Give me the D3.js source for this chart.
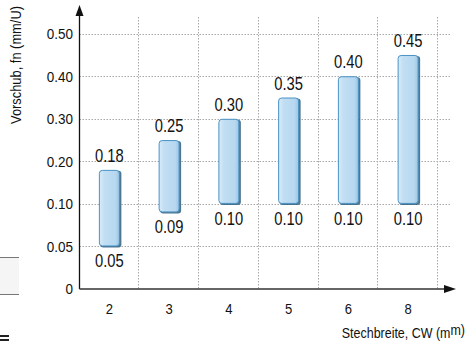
<!DOCTYPE html>
<html><head><meta charset="utf-8">
<script src="https://cdn.jsdelivr.net/npm/d3@7"></script>
<style>
html,body{margin:0;padding:0;background:#fff;}
svg{display:block;}
text{font-family:"Liberation Sans",Arial,sans-serif;fill:#111;}
</style></head>
<body>
<svg id="c" width="469" height="343"></svg>
<script>
const categories = ["2","3","4","5","6","8"];
const minValues = [0.05,0.09,0.10,0.10,0.10,0.10];
const maxValues = [0.18,0.25,0.30,0.35,0.40,0.45];
const yTicks = [0,0.05,0.10,0.20,0.30,0.40,0.50];
const yTickLabels = ["0","0.05","0.10","0.20","0.30","0.40","0.50"];
const yTitle = "Vorschub, fn (mm/U)";
const xTitle = "Stechbreite, CW (m";
const xTitleSup = "m)";

const svg = d3.select("#c");
const axX = 79.5, axY = 289, step = 42.55;
const y = d3.scaleLinear().domain(yTicks).range(yTicks.map((d,i)=>axY - i*step));
const x = d3.scaleBand().domain(categories).range([axX, 438]).paddingInner(0).paddingOuter(0);
const barW = 21;
const narrow = 0.82;

const defs = svg.append("defs");
const g = defs.append("linearGradient").attr("id","bg").attr("x1","0").attr("x2","1").attr("y1","0").attr("y2","0");
g.append("stop").attr("offset","0").attr("stop-color","#d9ecf9");
g.append("stop").attr("offset","0.25").attr("stop-color","#c1def3");
g.append("stop").attr("offset","0.8").attr("stop-color","#b7d8f0");
g.append("stop").attr("offset","1").attr("stop-color","#9cc5e3");

// left artifact
svg.append("rect").attr("x",0).attr("y",257).attr("width",19).attr("height",38).attr("fill","#f5f5f5");
svg.append("line").attr("x1",0).attr("x2",19).attr("y1",257.5).attr("y2",257.5).attr("stroke","#777");
svg.append("line").attr("x1",0).attr("x2",19).attr("y1",294.5).attr("y2",294.5).attr("stroke","#777");
svg.append("rect").attr("x",0).attr("y",335).attr("width",9).attr("height",2).attr("fill","#222");
svg.append("rect").attr("x",0).attr("y",339).attr("width",9).attr("height",2).attr("fill","#222");

// grid
const grid = svg.append("g").attr("stroke","#a8a8a8").attr("stroke-width",1).attr("stroke-dasharray","1.5,1.5");
yTicks.slice(1).forEach(t=>{
  grid.append("line").attr("x1",axX).attr("x2",450).attr("y1",Math.round(y(t))+0.5).attr("y2",Math.round(y(t))+0.5);
});
categories.forEach(c=>{
  const gx = Math.round(x(c)+x.bandwidth())-0.5;
  grid.append("line").attr("x1",gx).attr("x2",gx).attr("y1",17).attr("y2",axY);
});

// y tick labels
svg.append("g").selectAll("text").data(yTicks).join("text")
  .attr("transform",d=>`translate(73,${y(d)}) scale(0.9,1)`).attr("dy","0.36em").attr("text-anchor","end")
  .attr("font-size",15).text((d,i)=>yTickLabels[i]);

// x tick labels
svg.append("g").selectAll("text").data(categories).join("text")
  .attr("transform",d=>`translate(${x(d)+x.bandwidth()/2},313.5) scale(0.9,1)`).attr("text-anchor","middle")
  .attr("font-size",14.5).text(d=>d);

// bars
const bars = svg.append("g").selectAll("g").data(categories).join("g");
bars.append("rect")
  .attr("x",d=>x(d)+x.bandwidth()/2-barW/2+1.5).attr("width",barW)
  .attr("y",(d,i)=>y(maxValues[i])+1).attr("height",(d,i)=>y(minValues[i])-y(maxValues[i]))
  .attr("rx",3).attr("fill","#2f5f7d").attr("opacity",0.85);
bars.append("rect")
  .attr("x",d=>x(d)+x.bandwidth()/2-barW/2+0.5).attr("width",barW-1)
  .attr("y",(d,i)=>y(maxValues[i])+0.5).attr("height",(d,i)=>y(minValues[i])-y(maxValues[i])-1)
  .attr("rx",3).attr("fill","url(#bg)").attr("stroke","#4a92c4").attr("stroke-width",1);

// value labels
bars.append("text").attr("transform",(d,i)=>`translate(${x(d)+x.bandwidth()/2},${y(maxValues[i])-8}) scale(${narrow},1)`)
  .attr("text-anchor","middle").attr("font-size",18).text((d,i)=>maxValues[i].toFixed(2));
bars.append("text").attr("transform",(d,i)=>`translate(${x(d)+x.bandwidth()/2},${y(minValues[i])+21}) scale(${narrow},1)`)
  .attr("text-anchor","middle").attr("font-size",18).text((d,i)=>minValues[i].toFixed(2));

// axes
svg.append("line").attr("x1",axX).attr("x2",axX).attr("y1",14).attr("y2",axY).attr("stroke","#111").attr("stroke-width",1.3);
svg.append("line").attr("x1",axX).attr("x2",446).attr("y1",axY).attr("y2",axY).attr("stroke","#333").attr("stroke-width",1.5);
svg.append("path").attr("d",`M${axX},5 L${axX-4},16 L${axX+4},16 Z`).attr("fill","#111");
svg.append("path").attr("d",`M456,${axY} L444,${axY-4} L444,${axY+4} Z`).attr("fill","#111");

// titles
svg.append("text").attr("transform","translate(21,65) rotate(-90) scale(0.92,1)").attr("text-anchor","middle")
  .attr("font-size",14).text(yTitle);
const xt = svg.append("text").attr("transform","translate(465,338) scale(0.89,1)").attr("text-anchor","end").attr("font-size",14);
xt.append("tspan").text(xTitle);
xt.append("tspan").attr("dy",-3).text(xTitleSup);
</script>
</body></html>
